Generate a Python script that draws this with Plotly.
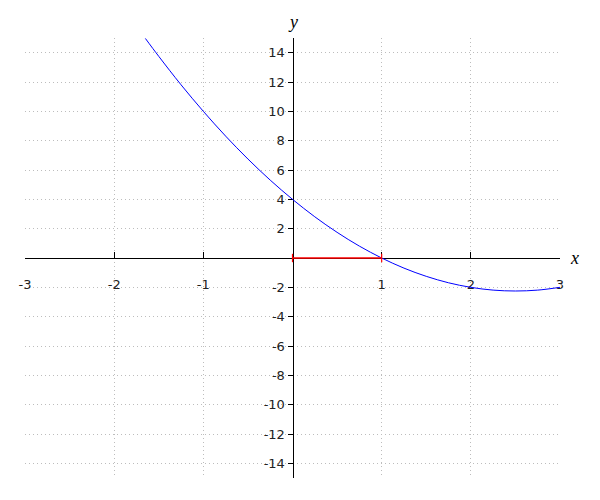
import plotly.graph_objects as go

# Blue curve, values
curve_x = [-1.65, -1.5, -1.25, -1.0, -0.75, -0.5, -0.25, 0.0, 0.25, 0.5, 0.75, 1.0,
           1.25, 1.5, 1.75, 2.0, 2.25, 2.5, 2.75, 3.0]
curve_y = [14.97, 13.75, 11.81, 10.0, 8.31, 6.75, 5.31, 4.0, 2.81, 1.75, 0.81, 0.0,
           -0.69, -1.25, -1.69, -2.0, -2.19, -2.25, -2.19, -2.0]

# Red segment
seg_x = [0, 1]
seg_y = [0, 0]

x_ticks = [-3, -2, -1, 1, 2, 3]
y_ticks = [-14, -12, -10, -8, -6, -4, -2, 2, 4, 6, 8, 10, 12, 14]

fig = go.Figure()
fig.add_trace(go.Scatter(x=curve_x, y=curve_y, mode="lines",
                         line=dict(color="blue", width=1, shape="spline"),
                         hoverinfo="skip", cliponaxis=False))
fig.add_trace(go.Scatter(x=seg_x, y=seg_y, mode="lines+markers",
                         line=dict(color="red", width=1.5),
                         marker=dict(symbol="line-ns", size=6,
                                     line=dict(color="red", width=1.2)),
                         hoverinfo="skip", cliponaxis=False))

tickfont = dict(family="DejaVu Sans", size=13, color="#222")
grid = dict(showgrid=True, gridcolor="#bdbdbd", griddash="1px,3px", gridwidth=1)
labelfont = dict(family="Liberation Serif, Times New Roman, serif", size=18, color="black")

fig.update_layout(
    width=600, height=500,
    margin=dict(l=17, r=48, t=30, b=30, autoexpand=False),
    paper_bgcolor="white", plot_bgcolor="white",
    showlegend=False,
    xaxis=dict(range=[-3, 3], tickvals=x_ticks, ticktext=[str(v) for v in x_ticks],
               anchor="free", position=0.5, side="bottom", automargin=False,
               showline=True, linecolor="black", linewidth=1, layer="below traces",
               ticks="inside", ticklen=6, tickcolor="black",
               ticklabelstandoff=14,
               zeroline=False, tickfont=tickfont, fixedrange=True, **grid),
    yaxis=dict(range=[-15, 15], tickvals=y_ticks, ticktext=[str(v) for v in y_ticks],
               anchor="free", position=0.5, side="left", automargin=False,
               showline=True, linecolor="black", linewidth=1, layer="below traces",
               ticks="outside", ticklen=5, tickcolor="black",
               zeroline=False, tickfont=tickfont, fixedrange=True, **grid),
    annotations=[
        dict(text="<i>y</i>", xref="x", yref="paper", x=0, y=1, yshift=16,
             showarrow=False, font=labelfont, xanchor="center", yanchor="middle"),
        dict(text="<i>x</i>", xref="paper", yref="y", x=1, y=0, xshift=14,
             showarrow=False, font=labelfont, xanchor="center", yanchor="middle"),
    ],
)

fig.write_html("out.html")
